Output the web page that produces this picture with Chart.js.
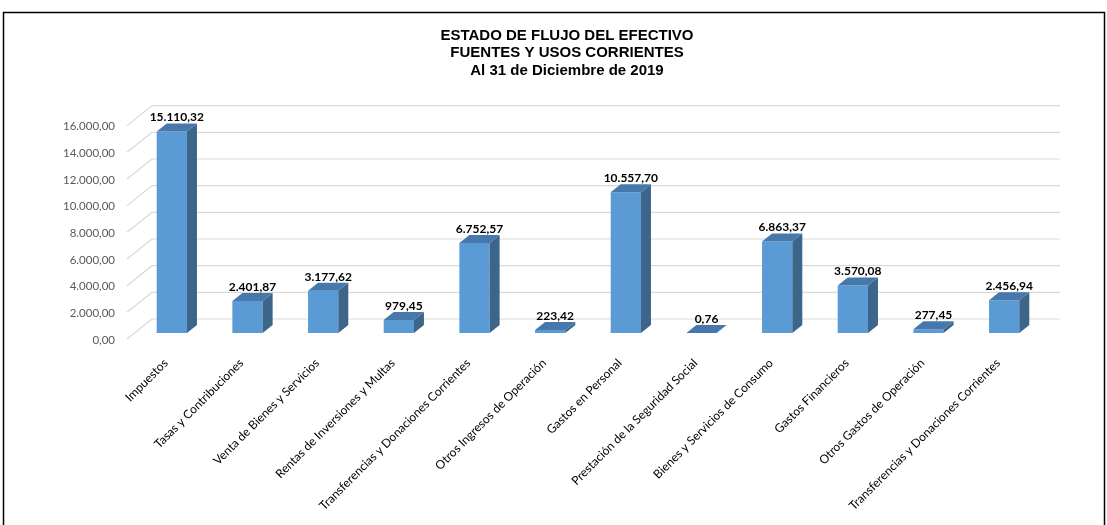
<!DOCTYPE html>
<html><head><meta charset="utf-8">
<script src="https://cdn.jsdelivr.net/npm/chart.js@4/dist/chart.umd.min.js"></script>
<style>html,body{margin:0;padding:0;background:#fff}#wrap{width:1107px;height:525px}</style>
</head><body><div id="wrap"><canvas id="c" width="1107" height="525"></canvas></div>
<script>
const titleLines = ['ESTADO DE FLUJO DEL EFECTIVO', 'FUENTES Y USOS CORRIENTES', 'Al 31 de Diciembre de 2019'];
const categories = [
  'Impuestos',
  'Tasas y Contribuciones',
  'Venta de Bienes y Servicios',
  'Rentas de Inversiones y Multas',
  'Transferencias y Donaciones Corrientes',
  'Otros Ingresos de Operación',
  'Gastos en Personal',
  'Prestación de la Seguridad Social',
  'Bienes y Servicios de Consumo',
  'Gastos Financieros',
  'Otros Gastos de Operación',
  'Transferencias y Donaciones Corrientes'
];
const values = [15110.32, 2401.87, 3177.62, 979.45, 6752.57, 223.42, 10557.70, 0.76, 6863.37, 3570.08, 277.45, 2456.94];
const yMin = 0, yMax = 16000, yStep = 2000;

function fmt(v) {
  const neg = v < 0; v = Math.abs(v);
  let parts = v.toFixed(2).split('.');
  let i = parts[0].replace(/\B(?=(\d{3})+(?!\d))/g, '.');
  return (neg ? '-' : '') + i + ',' + parts[1];
}

const DX = 10, DY = 8;     // bar depth
const GX = 25, GY = 20;    // wall depth
const FRONT_X = -7;        // front edge of floor relative to chart area left

const threeD = {
  id: 'threeD',
  beforeDraw(chart) {
    const ctx = chart.ctx;
    ctx.save();
    ctx.fillStyle = '#fff';
    ctx.fillRect(0, 0, chart.width, chart.height);
    ctx.strokeStyle = '#000';
    ctx.lineWidth = 1.5;
    ctx.strokeRect(3.5, 12.5, 1101, 540);
    ctx.restore();
  },
  beforeDatasetsDraw(chart) {
    const ctx = chart.ctx, y = chart.scales.y, a = chart.chartArea;
    ctx.save();
    ctx.strokeStyle = '#d9d9d9';
    ctx.lineWidth = 1.2;
    y.ticks.forEach(t => {
      const p = y.getPixelForValue(t.value);
      const yb = p - 14, yf = yb + GY;
      ctx.beginPath();
      ctx.moveTo(a.left + FRONT_X, yf);
      ctx.lineTo(a.left + FRONT_X + GX, yb);
      ctx.lineTo(a.right + 18, yb);
      ctx.stroke();
    });
    ctx.restore();
  },
  afterDatasetsDraw(chart) {
    const ctx = chart.ctx;
    const meta = chart.getDatasetMeta(0);
    ctx.save();
    meta.data.forEach((bar, i) => {
      const L = bar.x - bar.width / 2, R = bar.x + bar.width / 2;
      const top = bar.y, base = bar.base;
      ctx.fillStyle = '#3C6589';
      ctx.beginPath();
      ctx.moveTo(R, top); ctx.lineTo(R + DX, top - DY);
      ctx.lineTo(R + DX, base - DY); ctx.lineTo(R, base);
      ctx.closePath(); ctx.fill();
      ctx.fillStyle = '#4678AC';
      ctx.beginPath();
      ctx.moveTo(L, top); ctx.lineTo(R, top);
      ctx.lineTo(R + DX, top - DY); ctx.lineTo(L + DX, top - DY);
      ctx.closePath(); ctx.fill();
      ctx.fillStyle = '#000';
      ctx.font = 'bold 12px Lato';
      ctx.textAlign = 'center';
      ctx.textBaseline = 'middle';
      ctx.fillText(fmt(values[i]), bar.x + DX / 2, top - DY - 6);
    });
    ctx.restore();
  }
};

new Chart(document.getElementById('c'), {
  type: 'bar',
  data: {
    labels: categories,
    datasets: [{
      data: values,
      backgroundColor: '#5B9BD5',
      borderWidth: 0,
      barPercentage: 0.4,
      categoryPercentage: 1.0,
      yAxisID: 'y'
    }]
  },
  options: {
    responsive: false,
    devicePixelRatio: 1,
    animation: false,
    layout: { padding: { top: 0, left: 27, right: 0, bottom: 0 } },
    plugins: {
      legend: { display: false },
      tooltip: { enabled: false },
      title: {
        display: true,
        text: titleLines,
        color: '#000',
        font: { family: 'Liberation Sans', size: 15, weight: 'bold', lineHeight: 1.17 },
        padding: { top: 27, bottom: 40 }
      }
    },
    scales: {
      x: {
        grid: { display: false },
        border: { display: false },
        ticks: {
          autoSkip: false, maxRotation: 45, minRotation: 45,
          color: '#000', font: { family: 'Lato', size: 12 },
          padding: 15, labelOffset: -6
        },
        afterFit(s) { s.height = 192; }
      },
      y: {
        min: yMin, max: yMax,
        grid: { display: false, drawTicks: false },
        border: { display: false },
        ticks: {
          stepSize: yStep,
          callback: v => fmt(v),
          color: '#595959', font: { family: 'Lato', size: 11.5 },
          padding: 19, labelOffset: 7
        },
        afterFit(s) { s.width = 107; }
      },
      yRight: {
        position: 'right',
        min: yMin, max: yMax,
        grid: { display: false, drawTicks: false },
        border: { display: false },
        ticks: { display: false },
        afterFit(s) { s.width = 65; }
      }
    }
  },
  plugins: [threeD]
});
</script>
</body></html>
